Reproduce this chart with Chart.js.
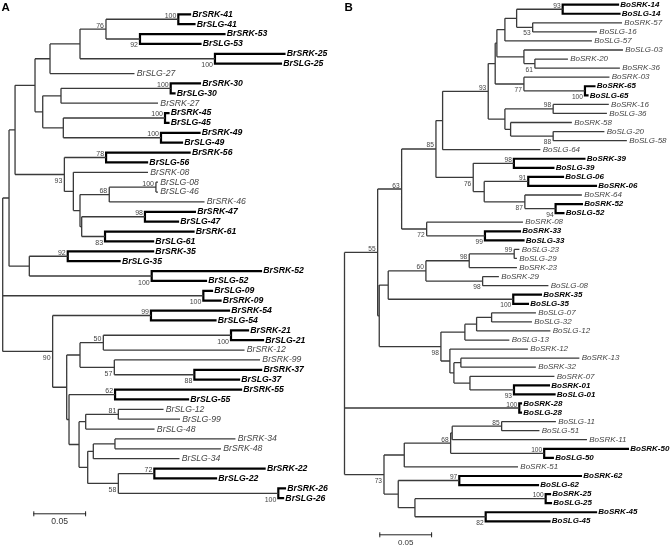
<!DOCTYPE html>
<html>
<head>
<meta charset="utf-8">
<script src="https://cdn.jsdelivr.net/npm/chart.js@4.4.0/dist/chart.umd.min.js"></script>
<style>
html, body { margin: 0; padding: 0; background: #fff; }
#wrap { position: relative; width: 670px; height: 546px; }
.panel { position: absolute; top: 0; width: 335px; height: 546px; }
</style>
</head>
<body>
<div id="wrap">
  <div class="panel" style="left:0"><canvas id="treeA" width="335" height="546"></canvas></div>
  <div class="panel" style="left:335px"><canvas id="treeB" width="335" height="546"></canvas></div>
</div>
<script>
'use strict';

// trees in newick, branch lengths in substitutions per site, node labels = bootstrap %
let treeA = `(
 (((((((BrSRK-41:0.0111,BrSLG-41:0.0153)100:0.0685,(BrSRK-53:0.0800,BrSLG-53:0.0573)92:0.0322)76:0.0246,
      (BrSRK-25:0.0658,BrSLG-25:0.0625)100:0.1278):0.0284,
     BrSLG-27:0.0800):0.0142,
    (((BrSRK-30:0.0277,BrSLG-30:0.0036)100:0.1039,BrSRK-27:0.0919):0.0173,
     ((BrSRK-45:0.0033,BrSLG-45:0.0033)100:0.0963,(BrSRK-49:0.0365,BrSLG-49:0.0199)100:0.0925):0.0195):0.0073):0.0189,
   ((BrSRK-56:0.0791,BrSLG-56:0.0388)78:0.0395,
    (BrSRK-08:0.0707,
     (((BrSLG-08:0.0019,BrSLG-46:0.0019)100:0.0442,BrSRK-46:0.0902)68:0.0277,
      ((BrSRK-47:0.0473,BrSLG-47:0.0313)98:0.0599,(BrSRK-61:0.0838,BrSLG-61:0.0455)83:0.0221):0.0016):0.0063):0.0085)93:0.0467):0.0057,
  ((BrSRK-35:0.0808,BrSLG-35:0.0491)92:0.0364,(BrSRK-52:0.1035,BrSLG-52:0.0514)100:0.1159):0.0192):0.0060,
 (BrSLG-09:0.0082,BrSRK-09:0.0163)100:0.1900,
 ((BrSRK-54:0.0739,BrSLG-54:0.0611)99:0.0931,
  ((((BrSRK-21:0.0161,BrSLG-21:0.0303)100:0.1209,BrSRK-12:0.1337)50:0.0221,
    (BrSRK-99:0.1380,(BrSRK-37:0.0632,BrSLG-37:0.0423)88:0.0758)57:0.0325):0.0126,
   ((BrSRK-55:0.1193,BrSLG-55:0.0691)62:0.0436,
    (((BrSLG-12:0.0428,BrSLG-99:0.0584)81:0.0309,BrSLG-48:0.0652):0.0063,
     (((BrSRK-34:0.1141,BrSRK-48:0.1004):0.0205,BrSLG-34:0.0816):0.0053,
      ((BrSRK-22:0.1044,BrSLG-22:0.0584)72:0.0341,(BrSRK-26:0.0063,BrSLG-26:0.0045)100:0.1515)58:0.0290):0.0082):0.0095):0.0022):0.0133)90:0.0473
);`;

let treeB = `(
 ((((((((((BoSRK-14:0.0524,BoSLG-14:0.0538)93:0.0436,(BoSRK-57:0.0846,BoSLG-16:0.0609)53:0.0152):0.0111,
         BoSLG-57:0.0824):0.0076,
        (BoSLG-03:0.0938,(BoSRK-20:0.0313,BoSRK-36:0.0805)61:0.0104):0.0256):0.0016,
       (BoSRK-03:0.0810,(BoSRK-65:0.0090,BoSLG-65:0.0024)100:0.0578)77:0.0272):0.0066,
      ((BoSRK-16:0.0527,BoSLG-36:0.0509)98:0.0457,
       (BoSRK-58:0.0580,(BoSLG-20:0.0485,BoSLG-58:0.0698)88:0.0403):0.0054):0.0158)93:0.0432,
     BoSLG-64:0.0926):0.0063,
    ((BoSRK-39:0.0668,BoSLG-39:0.0374)98:0.0385,
     ((BoSLG-06:0.0329,BoSRK-06:0.0641)91:0.0417,(BoSRK-64:0.0540,(BoSRK-52:0.0249,BoSLG-52:0.0074)94:0.0291)87:0.0385):0.0104)76:0.0353)85:0.0325,
   (BoSRK-08:0.0912,(BoSRK-33:0.0331,BoSLG-33:0.0365)99:0.0552)72:0.0237)63:0.0227,
  (((((BoSLG-23:0.0049,BoSLG-29:0.0026)99:0.0426,BoSRK-23:0.0452)98:0.0410,(BoSRK-29:0.0154,BoSLG-08:0.0623)98:0.0537)60:0.0357,
    (BoSRK-35:0.0262,BoSLG-35:0.0139)100:0.1184):0.0085,
   ((((BoSLG-07:0.0420,BoSLG-32:0.0382):0.0142,BoSLG-12:0.0699):0.0111,BoSLG-13:0.0421):0.0227,
    (BoSRK-12:0.0739,((BoSRK-13:0.1122,BoSRK-32:0.0710):0.0066,
     (BoSRK-07:0.0800,(BoSRK-01:0.0331,BoSLG-01:0.0384)93:0.0417):0.0152):0.0038):0.0085)98:0.0584):0.0015)55:0.0314,
 (BoSRK-28:0.0016,BoSLG-28:0.0016)100:0.1655,
 (((((BoSLG-11:0.0514,BoSLG-51:0.0358)85:0.0468,BoSRK-11:0.1276):0.0015,(BoSRK-50:0.0793,BoSLG-50:0.0082)100:0.0886)68:0.0439,
   BoSRK-51:0.1077):0.0192,
  ((BoSRK-62:0.1152,BoSLG-62:0.0745)97:0.0578,
   ((BoSRK-25:0.0041,BoSLG-25:0.0050)100:0.1238,(BoSRK-45:0.1045,BoSLG-45:0.0604)82:0.0670):0.0158):0.0135)73:0.0374
);`;

// haplotypes printed in bold
let boldA = ['41', '53', '25', '30', '45', '49', '56', '47', '61', '35', '52', '09', '54', '21', '37', '55', '22', '26'];
let boldB = ['14', '65', '39', '06', '52', '33', '35', '01', '28', '50', '62', '25', '45'];

let scaleBar = 0.05;

// where each bootstrap value sits (newick order): a = above branch, b = below
let sidesA = 'ababaaaaaaabbabbababbaaabbb';
let sidesB = 'abbbbabaaabbbabbaaababbbaaaaaaabb';

let layoutA = { letter: 'A', letterX: 1.5, pxPerUnit: 1056, rootPx: 2.7, firstLeafPx: 14.3, leafStepPx: 9.876,
  leafFont: 8.7, supFont: 7, barX: 33.3, barY: 513.3, barFont: 8.6 };
let layoutB = { letter: 'B', letterX: 9.5, pxPerUnit: 1056, rootPx: 9.5, firstLeafPx: 4.7, leafStepPx: 9.063,
  leafFont: 8, supFont: 6.6, barX: 44.3, barY: 534.3, barFont: 8 };

const FONT = '"Liberation Sans", Arial, sans-serif';

function parseNewick(str) {
  let s = str.replace(/\s+/g, '');
  let i = 0;
  function node() {
    let n = { children: [], name: '', len: 0 };
    if (s[i] === '(') {
      i++;
      n.children.push(node());
      while (s[i] === ',') { i++; n.children.push(node()); }
      i++;
    }
    let start = i;
    while (i < s.length && ':,();'.indexOf(s[i]) < 0) i++;
    n.name = s.slice(start, i);
    if (s[i] === ':') {
      i++; start = i;
      while (i < s.length && ',();'.indexOf(s[i]) < 0) i++;
      n.len = parseFloat(s.slice(start, i));
    }
    return n;
  }
  return node();
}

function layoutTree(root) {
  let leaves = [], internals = [];
  (function walk(n, depth) {
    n.x = depth;
    n.children.forEach(c => walk(c, depth + c.len));
    if (!n.children.length) {
      n.y = leaves.length;
      leaves.push(n);
    } else {
      n.y = (n.children[0].y + n.children[n.children.length - 1].y) / 2;
      if (n.name) internals.push(n);
    }
  })(root, 0);
  return { root, leaves, internals };
}

function isBold(name, nums) {
  return nums.includes(name.split('-')[1]);
}

function branches(root, boldNums) {
  let thin = [], thick = [];
  (function walk(n, parent) {
    if (parent) {
      let heavy = !n.children.length && isBold(n.name, boldNums);
      (heavy ? thick : thin).push({ x: parent.x, y: n.y }, { x: n.x, y: n.y }, { x: null, y: null });
    }
    if (n.children.length) {
      let first = n.children[0], last = n.children[n.children.length - 1];
      let allBold = n.children.every(c => !c.children.length && isBold(c.name, boldNums));
      (allBold ? thick : thin).push({ x: n.x, y: first.y }, { x: n.x, y: last.y }, { x: null, y: null });
      n.children.forEach(c => walk(c, n));
    }
  })(root, null);
  return { thin, thick };
}

function treeLabels(tree, lay, boldNums, sides) {
  return {
    id: 'labels' + lay.letter,
    afterDatasetsDraw(chart) {
      let ctx = chart.ctx, xs = chart.scales.x, ys = chart.scales.y;
      ctx.save();
      // leaf names
      ctx.textAlign = 'left';
      ctx.textBaseline = 'middle';
      tree.leaves.forEach(l => {
        let b = isBold(l.name, boldNums);
        ctx.font = (b ? 'italic bold ' : 'italic ') + lay.leafFont + 'px ' + FONT;
        ctx.fillStyle = b ? '#000' : '#444';
        ctx.fillText(l.name, xs.getPixelForValue(l.x) + 2.3, ys.getPixelForValue(l.y));
      });
      // bootstrap values
      ctx.font = lay.supFont + 'px ' + FONT;
      ctx.fillStyle = '#444';
      ctx.textAlign = 'right';
      ctx.textBaseline = 'alphabetic';
      tree.internals.forEach((n, k) => {
        let below = sides[k] === 'b';
        let py = ys.getPixelForValue(n.y) + (below ? lay.supFont + 1.5 : -1.5);
        ctx.fillText(n.name, xs.getPixelForValue(n.x) - 2, py);
      });
      // scale bar
      let len = xs.getPixelForValue(scaleBar) - xs.getPixelForValue(0);
      ctx.strokeStyle = '#222';
      ctx.lineWidth = 1;
      ctx.beginPath();
      ctx.moveTo(lay.barX, lay.barY + 0.5);
      ctx.lineTo(lay.barX + len, lay.barY + 0.5);
      ctx.moveTo(lay.barX + 0.5, lay.barY - 2);
      ctx.lineTo(lay.barX + 0.5, lay.barY + 3);
      ctx.moveTo(lay.barX + len - 0.5, lay.barY - 2);
      ctx.lineTo(lay.barX + len - 0.5, lay.barY + 3);
      ctx.stroke();
      ctx.font = lay.barFont + 'px ' + FONT;
      ctx.fillStyle = '#333';
      ctx.textAlign = 'center';
      ctx.textBaseline = 'middle';
      ctx.fillText(scaleBar.toFixed(2), lay.barX + len / 2, lay.barY + 8.5);
      // panel letter
      ctx.font = 'bold 11.5px ' + FONT;
      ctx.fillStyle = '#000';
      ctx.textAlign = 'left';
      ctx.textBaseline = 'top';
      ctx.fillText(lay.letter, lay.letterX, 2);
      ctx.restore();
    }
  };
}

function drawTree(canvasId, newick, lay, boldNums, sides) {
  let tree = layoutTree(parseNewick(newick));
  let segs = branches(tree.root, boldNums);
  let canvas = document.getElementById(canvasId);
  let xMin = -lay.rootPx / lay.pxPerUnit;
  let yMin = -lay.firstLeafPx / lay.leafStepPx;

  new Chart(canvas, {
    type: 'scatter',
    data: {
      datasets: [
        { data: segs.thin, showLine: true, borderColor: '#3a3a3a', borderWidth: 1.3,
          pointRadius: 0, spanGaps: false, tension: 0 },
        { data: segs.thick, showLine: true, borderColor: '#000', borderWidth: 2.2, borderCapStyle: 'square',
          pointRadius: 0, spanGaps: false, tension: 0 }
      ]
    },
    options: {
      responsive: false,
      animation: false,
      devicePixelRatio: 1,
      events: [],
      layout: { padding: 0 },
      plugins: { legend: { display: false }, tooltip: { enabled: false } },
      scales: {
        x: { type: 'linear', display: false, min: xMin, max: xMin + canvas.width / lay.pxPerUnit },
        y: { type: 'linear', display: false, reverse: true, min: yMin, max: yMin + canvas.height / lay.leafStepPx }
      }
    },
    plugins: [treeLabels(tree, lay, boldNums, sides)]
  });
}

drawTree('treeA', treeA, layoutA, boldA, sidesA);
drawTree('treeB', treeB, layoutB, boldB, sidesB);
</script>
</body>
</html>
